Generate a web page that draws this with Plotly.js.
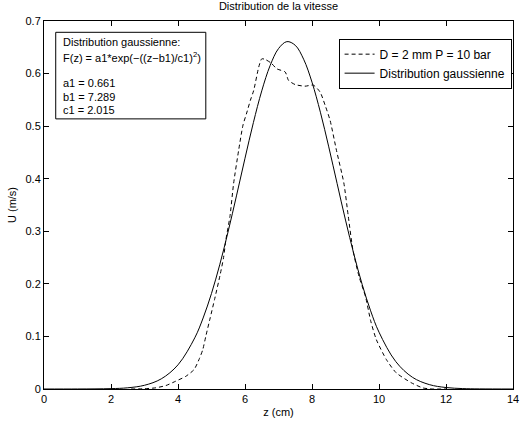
<!DOCTYPE html>
<html>
<head>
<meta charset="utf-8">
<script src="https://cdn.plot.ly/plotly-3.0.1.min.js"></script>
<style>html,body{margin:0;padding:0;background:#fff}#chart{width:520px;height:428px}</style>
</head>
<body>
<div id="chart"></div>
<script>
// Measured profile: D = 2 mm, P = 10 bar
var measZ = [2.6, 3.0, 3.34, 3.64, 3.93, 4.23, 4.48, 4.64, 4.74, 4.84, 4.96, 5.09, 5.25, 5.36, 5.43, 5.55, 5.66, 5.81, 5.94, 6.05, 6.16, 6.26, 6.41, 6.5, 6.6, 6.78, 6.95, 7.2, 7.3, 7.5, 7.79, 8.04, 8.24, 8.39, 8.54, 8.73, 8.95, 9.08, 9.22, 9.4, 9.6, 9.75, 9.92, 10.22, 10.51, 10.96, 11.31, 11.6, 12];
var measU = [0, 0.0005, 0.0023, 0.0066, 0.0148, 0.024, 0.037, 0.058, 0.075, 0.103, 0.135, 0.17, 0.215, 0.25, 0.284, 0.328, 0.391, 0.454, 0.502, 0.525, 0.549, 0.568, 0.6125, 0.628, 0.627, 0.620, 0.609, 0.603, 0.587, 0.579, 0.576, 0.578, 0.565, 0.540, 0.511, 0.454, 0.392, 0.33, 0.265, 0.215, 0.175, 0.13, 0.094, 0.056, 0.031, 0.012, 0.002, 0, 0];

// Gaussian fit curve (a1 = 0.661, b1 = 7.289, c1 = 2.015), values as drawn
var fitZ = [0, 1, 2, 2.5, 3, 3.5, 4, 4.5, 4.75, 5, 5.25, 5.5, 5.75, 6, 6.25, 6.5, 6.75, 7, 7.25, 7.5, 7.75, 8, 8.25, 8.5, 8.75, 9, 9.25, 9.5, 9.75, 10, 10.5, 11, 11.5, 12, 12.5, 13, 14];
var fitU = [0, 0.00004, 0.0007, 0.0023, 0.0071, 0.0193, 0.0460, 0.0973, 0.1351, 0.1818, 0.2374, 0.3005, 0.3688, 0.4390, 0.5067, 0.5671, 0.6153, 0.6475, 0.6608, 0.6538, 0.6273, 0.5836, 0.5265, 0.4606, 0.3907, 0.3214, 0.2564, 0.1983, 0.1487, 0.1081, 0.0522, 0.0222, 0.0084, 0.0028, 0.0008, 0.0002, 0];

var seriesNames = ["D = 2 mm P = 10 bar", "Distribution gaussienne"];
var xTicks = [0, 2, 4, 6, 8, 10, 12, 14];
var yTicks = [0, 0.1, 0.2, 0.3, 0.4, 0.5, 0.6, 0.7];
var titleText = "Distribution de la vitesse";
var xTitle = "z (cm)";
var yTitle = "U (m/s)";
var boxLines = ["Distribution gaussienne:",
                "F(z) = a1*exp(\u2212((z\u2212b1)/c1)<sup>2</sup>)",
                "a1 = 0.661", "b1 = 7.289", "c1 = 2.015"];
var boxLineY = [0.9438, 0.903, 0.8326, 0.7929, 0.7571];

var FONT = "Liberation Sans, Arial, Helvetica, sans-serif";

var traces = [
  {x: measZ, y: measU, mode: "lines", name: seriesNames[0],
   line: {color: "#000", width: 1, dash: "4px,3px", shape: "spline", smoothing: 0.6}},
  {x: fitZ, y: fitU, mode: "lines", name: seriesNames[1],
   line: {color: "#000", width: 1, shape: "spline", smoothing: 1}}
];

var axisCommon = {
  showline: true, linecolor: "#000", linewidth: 1, mirror: "ticks",
  ticks: "inside", ticklen: 5, tickwidth: 1, tickcolor: "#000",
  showgrid: false, zeroline: false, ticklabeloverflow: "allow",
  tickfont: {family: FONT, size: 11, color: "#000"}
};

var annotations = boxLines.map(function (t, i) {
  return {xref: "paper", yref: "paper", x: 0.036, y: boxLineY[i],
          xanchor: "left", yanchor: "middle", align: "left",
          text: t, showarrow: false,
          font: {family: FONT, size: 11, color: "#000"}};
});

var layout = {
  width: 520, height: 428,
  margin: {l: 44, r: 7, t: 21, b: 38.5},
  paper_bgcolor: "#fff", plot_bgcolor: "#fff",
  font: {family: FONT, size: 11, color: "#000"},
  title: {text: titleText, font: {family: FONT, size: 11, color: "#000"},
          x: 0.5, xref: "paper", y: 0.985, yref: "container", yanchor: "middle"},
  xaxis: Object.assign({}, axisCommon, {
    range: [0, 14], tickvals: xTicks, ticktext: xTicks.map(String),
    title: {text: xTitle, font: {family: FONT, size: 11, color: "#000"}, standoff: 4}
  }),
  yaxis: Object.assign({}, axisCommon, {
    range: [0, 0.7], tickvals: yTicks, ticktext: yTicks.map(String),
    title: {text: yTitle, font: {family: FONT, size: 11, color: "#000"}, standoff: 6}
  }),
  showlegend: true,
  legend: {
    x: 0.997, xanchor: "right", y: 0.952, yanchor: "top",
    bgcolor: "#fff", bordercolor: "#000", borderwidth: 1,
    font: {family: FONT, size: 12, color: "#000"},
    tracegroupgap: 0, itemwidth: 30
  },
  shapes: [{
    type: "rect", xref: "paper", yref: "paper",
    x0: 0.025, x1: 0.345, y0: 0.734, y1: 0.9693,
    line: {color: "#000", width: 1}, fillcolor: "#fff", layer: "above"
  }],
  annotations: annotations
};

Plotly.newPlot("chart", traces, layout, {staticPlot: true, displayModeBar: false});
</script>
</body>
</html>
